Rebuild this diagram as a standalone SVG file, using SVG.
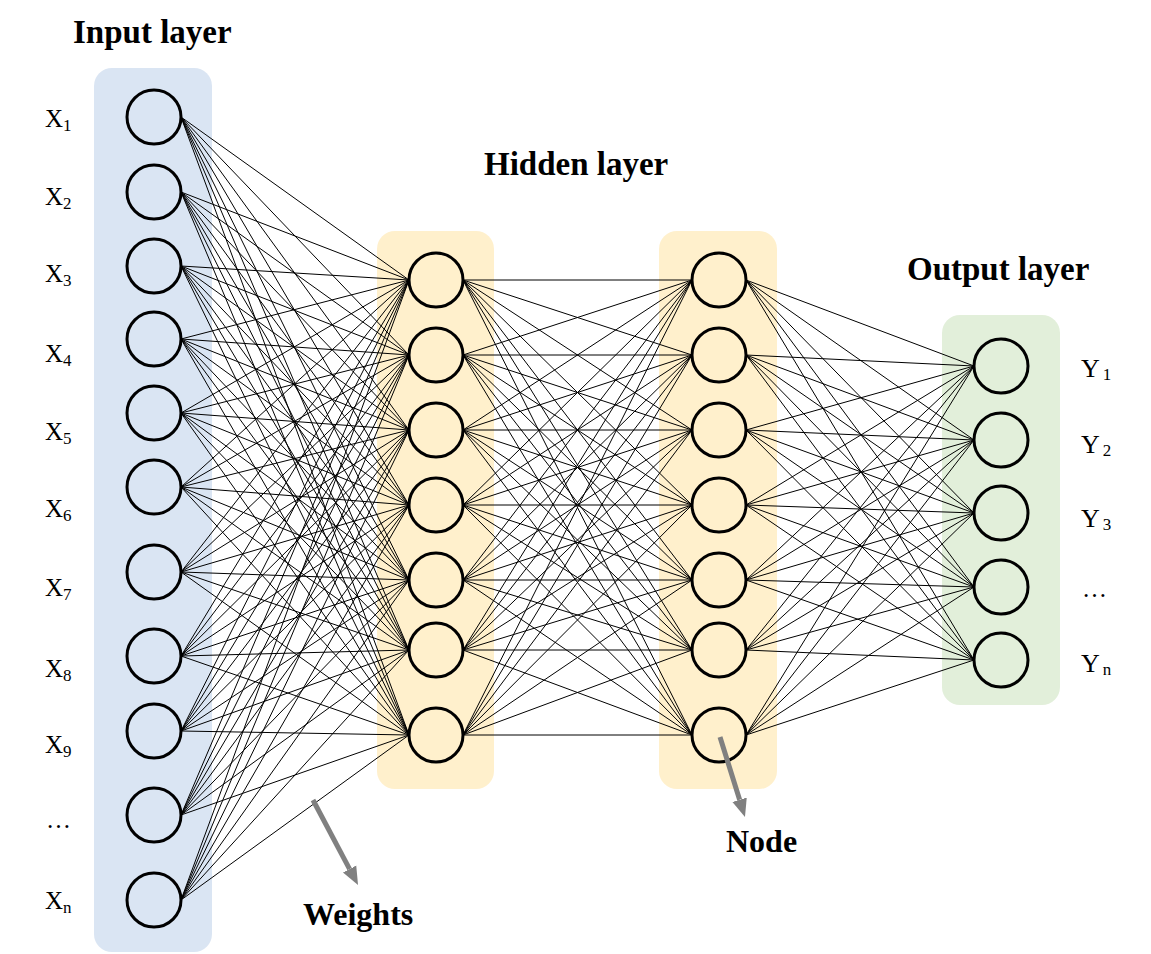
<svg xmlns="http://www.w3.org/2000/svg" width="1151" height="954" viewBox="0 0 1151 954">
<style>
.title{font-family:"Liberation Serif","Times New Roman",serif;font-weight:bold;font-size:33px;fill:#000}
.lbl{font-family:"Liberation Serif","Times New Roman",serif;font-size:25px;fill:#000}
.ylbl{font-size:26px}
.sub{font-size:17px}
.w{fill:none;stroke:#000;stroke-width:1}
.node{stroke:#000;stroke-width:3}
.in{fill:#DAE5F3}
.hid{fill:#FFF0CC}
.out{fill:#E2EFDA}
.ptr{stroke:#808080;stroke-width:5;fill:none}
</style>
<defs>
<marker id="ah" markerUnits="userSpaceOnUse" markerWidth="20" markerHeight="18" refX="0" refY="8" orient="auto" viewBox="0 0 20 16">
<path d="M0,0.5 L18,8 L0,15.5 z" fill="#808080"/>
</marker>
</defs>
<rect width="1151" height="954" fill="#fff"/>
<g id="layer-boxes">
<rect id="input-box" class="in" x="94" y="68" width="118" height="884" rx="18"/>
<rect id="hidden1-box" class="hid" x="377" y="231" width="117" height="558" rx="18"/>
<rect id="hidden2-box" class="hid" x="659" y="231" width="118" height="558" rx="18"/>
<rect id="output-box" class="out" x="942" y="315" width="118" height="390" rx="18"/>
</g>
<g id="connectors">
<path class="w" d="M181,117L409,280M181,117L409,355M181,117L409,430M181,117L409,505M181,117L409,580M181,117L409,650M181,117L409,735"/>
<path class="w" d="M181,192L409,280M181,192L409,355M181,192L409,430M181,192L409,505M181,192L409,580M181,192L409,650M181,192L409,735"/>
<path class="w" d="M181,266L409,280M181,266L409,355M181,266L409,430M181,266L409,505M181,266L409,580M181,266L409,650M181,266L409,735"/>
<path class="w" d="M181,339L409,280M181,339L409,355M181,339L409,430M181,339L409,505M181,339L409,580M181,339L409,650M181,339L409,735"/>
<path class="w" d="M181,413L409,280M181,413L409,355M181,413L409,430M181,413L409,505M181,413L409,580M181,413L409,650M181,413L409,735"/>
<path class="w" d="M181,487L409,280M181,487L409,355M181,487L409,430M181,487L409,505M181,487L409,580M181,487L409,650M181,487L409,735"/>
<path class="w" d="M181,572L409,280M181,572L409,355M181,572L409,430M181,572L409,505M181,572L409,580M181,572L409,650M181,572L409,735"/>
<path class="w" d="M181,656L409,280M181,656L409,355M181,656L409,430M181,656L409,505M181,656L409,580M181,656L409,650M181,656L409,735"/>
<path class="w" d="M181,731L409,280M181,731L409,355M181,731L409,430M181,731L409,505M181,731L409,580M181,731L409,650M181,731L409,735"/>
<path class="w" d="M181,815L409,280M181,815L409,355M181,815L409,430M181,815L409,505M181,815L409,580M181,815L409,650M181,815L409,735"/>
<path class="w" d="M181,900L409,280M181,900L409,355M181,900L409,430M181,900L409,505M181,900L409,580M181,900L409,650M181,900L409,735"/>
<path class="w" d="M463,280L692,280M463,280L692,355M463,280L692,430M463,280L692,505M463,280L692,580M463,280L692,650M463,280L692,735"/>
<path class="w" d="M463,355L692,280M463,355L692,355M463,355L692,430M463,355L692,505M463,355L692,580M463,355L692,650M463,355L692,735"/>
<path class="w" d="M463,430L692,280M463,430L692,355M463,430L692,430M463,430L692,505M463,430L692,580M463,430L692,650M463,430L692,735"/>
<path class="w" d="M463,505L692,280M463,505L692,355M463,505L692,430M463,505L692,505M463,505L692,580M463,505L692,650M463,505L692,735"/>
<path class="w" d="M463,580L692,280M463,580L692,355M463,580L692,430M463,580L692,505M463,580L692,580M463,580L692,650M463,580L692,735"/>
<path class="w" d="M463,650L692,280M463,650L692,355M463,650L692,430M463,650L692,505M463,650L692,580M463,650L692,650M463,650L692,735"/>
<path class="w" d="M463,735L692,280M463,735L692,355M463,735L692,430M463,735L692,505M463,735L692,580M463,735L692,650M463,735L692,735"/>
<path class="w" d="M746,280L974,366M746,280L974,440M746,280L974,513M746,280L974,587M746,280L974,660"/>
<path class="w" d="M746,355L974,366M746,355L974,440M746,355L974,513M746,355L974,587M746,355L974,660"/>
<path class="w" d="M746,430L974,366M746,430L974,440M746,430L974,513M746,430L974,587M746,430L974,660"/>
<path class="w" d="M746,505L974,366M746,505L974,440M746,505L974,513M746,505L974,587M746,505L974,660"/>
<path class="w" d="M746,580L974,366M746,580L974,440M746,580L974,513M746,580L974,587M746,580L974,660"/>
<path class="w" d="M746,650L974,366M746,650L974,440M746,650L974,513M746,650L974,587M746,650L974,660"/>
<path class="w" d="M746,735L974,366M746,735L974,440M746,735L974,513M746,735L974,587M746,735L974,660"/>
</g>
<g id="input-nodes">
<g id="x1"><circle class="node in" cx="154" cy="117" r="27"/><text class="lbl" x="45" y="127">X<tspan class="sub" dy="4">1</tspan></text></g>
<g id="x2"><circle class="node in" cx="154" cy="192" r="27"/><text class="lbl" x="45" y="205">X<tspan class="sub" dy="4">2</tspan></text></g>
<g id="x3"><circle class="node in" cx="154" cy="266" r="27"/><text class="lbl" x="45" y="282">X<tspan class="sub" dy="4">3</tspan></text></g>
<g id="x4"><circle class="node in" cx="154" cy="339" r="27"/><text class="lbl" x="45" y="362">X<tspan class="sub" dy="4">4</tspan></text></g>
<g id="x5"><circle class="node in" cx="154" cy="413" r="27"/><text class="lbl" x="45" y="440">X<tspan class="sub" dy="4">5</tspan></text></g>
<g id="x6"><circle class="node in" cx="154" cy="487" r="27"/><text class="lbl" x="45" y="517">X<tspan class="sub" dy="4">6</tspan></text></g>
<g id="x7"><circle class="node in" cx="154" cy="572" r="27"/><text class="lbl" x="45" y="596">X<tspan class="sub" dy="4">7</tspan></text></g>
<g id="x8"><circle class="node in" cx="154" cy="656" r="27"/><text class="lbl" x="45" y="677">X<tspan class="sub" dy="4">8</tspan></text></g>
<g id="x9"><circle class="node in" cx="154" cy="731" r="27"/><text class="lbl" x="45" y="753">X<tspan class="sub" dy="4">9</tspan></text></g>
<g id="x-dots"><circle class="node in" cx="154" cy="815" r="27"/><text class="lbl" x="46" y="828">…</text></g>
<g id="xn"><circle class="node in" cx="154" cy="900" r="27"/><text class="lbl" x="45" y="909">X<tspan class="sub" dy="4">n</tspan></text></g>
</g>
<g id="hidden1-nodes">
<circle id="h1-1" class="node hid" cx="436" cy="280" r="27"/>
<circle id="h1-2" class="node hid" cx="436" cy="355" r="27"/>
<circle id="h1-3" class="node hid" cx="436" cy="430" r="27"/>
<circle id="h1-4" class="node hid" cx="436" cy="505" r="27"/>
<circle id="h1-5" class="node hid" cx="436" cy="580" r="27"/>
<circle id="h1-6" class="node hid" cx="436" cy="650" r="27"/>
<circle id="h1-7" class="node hid" cx="436" cy="735" r="27"/>
</g>
<g id="hidden2-nodes">
<circle id="h2-1" class="node hid" cx="719" cy="280" r="27"/>
<circle id="h2-2" class="node hid" cx="719" cy="355" r="27"/>
<circle id="h2-3" class="node hid" cx="719" cy="430" r="27"/>
<circle id="h2-4" class="node hid" cx="719" cy="505" r="27"/>
<circle id="h2-5" class="node hid" cx="719" cy="580" r="27"/>
<circle id="h2-6" class="node hid" cx="719" cy="650" r="27"/>
<circle id="h2-7" class="node hid" cx="719" cy="735" r="27"/>
</g>
<g id="output-nodes">
<g id="y1"><circle class="node out" cx="1001" cy="366" r="27"/><text class="lbl ylbl" x="1081" y="377">Y<tspan class="sub" dx="3" dy="3">1</tspan></text></g>
<g id="y2"><circle class="node out" cx="1001" cy="440" r="27"/><text class="lbl ylbl" x="1081" y="453">Y<tspan class="sub" dx="3" dy="3">2</tspan></text></g>
<g id="y3"><circle class="node out" cx="1001" cy="513" r="27"/><text class="lbl ylbl" x="1081" y="527">Y<tspan class="sub" dx="3" dy="3">3</tspan></text></g>
<g id="y-dots"><circle class="node out" cx="1001" cy="587" r="27"/><text class="lbl" x="1082" y="597">…</text></g>
<g id="yn"><circle class="node out" cx="1001" cy="660" r="27"/><text class="lbl ylbl" x="1081" y="672">Y<tspan class="sub" dx="3" dy="3">n</tspan></text></g>
</g>
<g id="titles">
<text class="title" x="73" y="43">Input layer</text>
<text class="title" x="484" y="175">Hidden layer</text>
<text class="title" x="907" y="280">Output layer</text>
</g>
<g id="weights-pointer">
<line class="ptr" x1="313" y1="800" x2="349.6" y2="869.1" marker-end="url(#ah)"/>
<text class="title" x="303" y="925" style="font-size:32px">Weights</text>
</g>
<g id="node-pointer">
<line class="ptr" x1="720" y1="737" x2="739.6" y2="799.8" marker-end="url(#ah)"/>
<text class="title" x="726" y="852" style="font-size:32px">Node</text>
</g>
</svg>
